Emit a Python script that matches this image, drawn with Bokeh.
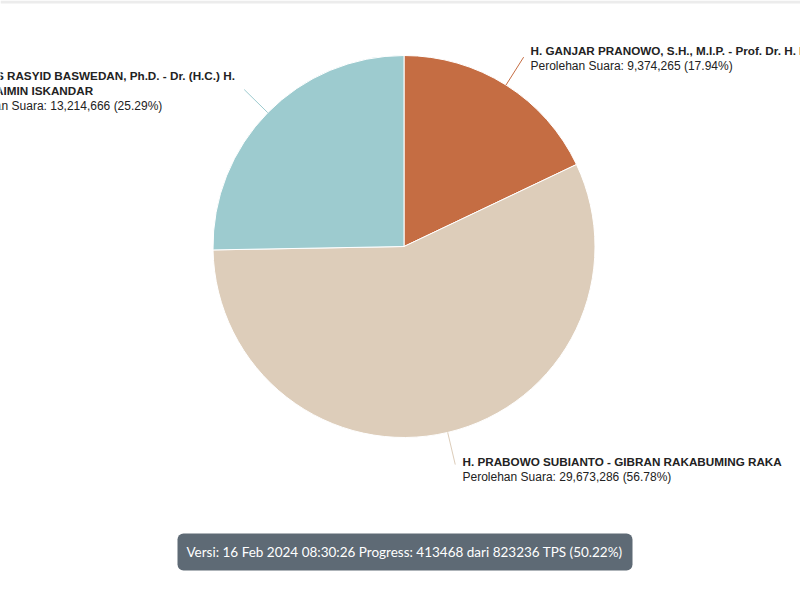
import math
from bokeh.plotting import figure
from bokeh.models import ColumnDataSource, BoxAnnotation, Range1d
from bokeh.core.properties import value
from bokeh.embed import file_html
from bokeh.resources import INLINE

# ---- data ----
name_lines = [
    ["H. GANJAR PRANOWO, S.H., M.I.P. - Prof. Dr. H. M. MAHFUD MD"],
    ["H. PRABOWO SUBIANTO - GIBRAN RAKABUMING RAKA"],
    ["H. ANIES RASYID BASWEDAN, Ph.D. - Dr. (H.C.) H.", "A. MUHAIMIN ISKANDAR"],
]
votes = [9374265, 29673286, 13214666]
percents = [17.94, 56.78, 25.29]
colors = ["#C56D43", "#DDCDBA", "#9DCBCF"]
footer_text = "Versi: 16 Feb 2024 08:30:26 Progress: 413468 dari 823236 TPS (50.22%)"

# ---- layout ----
W, H = 800, 600
cx, cy = 403.5, H - 246
R = 191
label_pos = [(530, 50), (462, 461), (-47, 75)]
line_gap = 15

p = figure(width=W, height=H, output_backend="svg", toolbar_location=None,
           x_range=Range1d(0, W), y_range=Range1d(0, H), min_border=0)
p.axis.visible = False
p.grid.visible = False
p.outline_line_color = None
p.background_fill_color = "white"
p.border_fill_color = "white"

total = sum(votes)
start = math.pi / 2
starts, ends, mids = [], [], []
for v in votes:
    a = 2 * math.pi * v / total
    starts.append(start)
    ends.append(start - a)
    mids.append(start - a / 2)
    start -= a

src = ColumnDataSource(dict(start=starts, end=ends, color=colors))
p.wedge(x=cx, y=cy, radius=R, start_angle="start", end_angle="end", direction="clock",
        fill_color="color", line_color="white", line_width=1, source=src)

# connectors
for m, c in zip(mids, colors):
    x0, y0 = cx + R * math.cos(m), cy + R * math.sin(m)
    x1, y1 = cx + (R + 33) * math.cos(m), cy + (R + 33) * math.sin(m)
    p.line([x0, x1], [y0, y1], line_color=c, line_width=1)

# labels
for (lx, ly), lines, v, pc in zip(label_pos, name_lines, votes, percents):
    ys = [H - (ly + i * line_gap) for i in range(len(lines))]
    p.text(x=[lx] * len(lines), y=ys, text=lines, text_font=value("Liberation Sans"),
           text_font_size="11.7px", text_font_style="bold", text_color="#222222",
           text_baseline="middle", text_align="left")
    p.text(x=[lx], y=[H - (ly + len(lines) * line_gap)],
           text=[f"Perolehan Suara: {v:,} ({pc:.2f}%)"],
           text_font=value("Liberation Sans"), text_font_size="12px",
           text_color="#222222", text_baseline="middle", text_align="left")

# top faint border
p.add_layout(BoxAnnotation(left=0, right=W, top=H, bottom=H - 3, fill_color="#ececec",
                           fill_alpha=1, line_color=None, level="underlay"))

# footer badge
p.add_layout(BoxAnnotation(left=177, right=632, top=H - 533, bottom=H - 570,
                           fill_color="#5E6A75", fill_alpha=1, line_color=None,
                           border_radius=6, level="underlay"))
p.text(x=[404], y=[H - 551.5], text=[footer_text], text_font=value("Lato"),
       text_font_size="13.5px", text_color="white", text_align="center",
       text_baseline="middle")

open("out.html", "w").write(file_html(p, INLINE))
